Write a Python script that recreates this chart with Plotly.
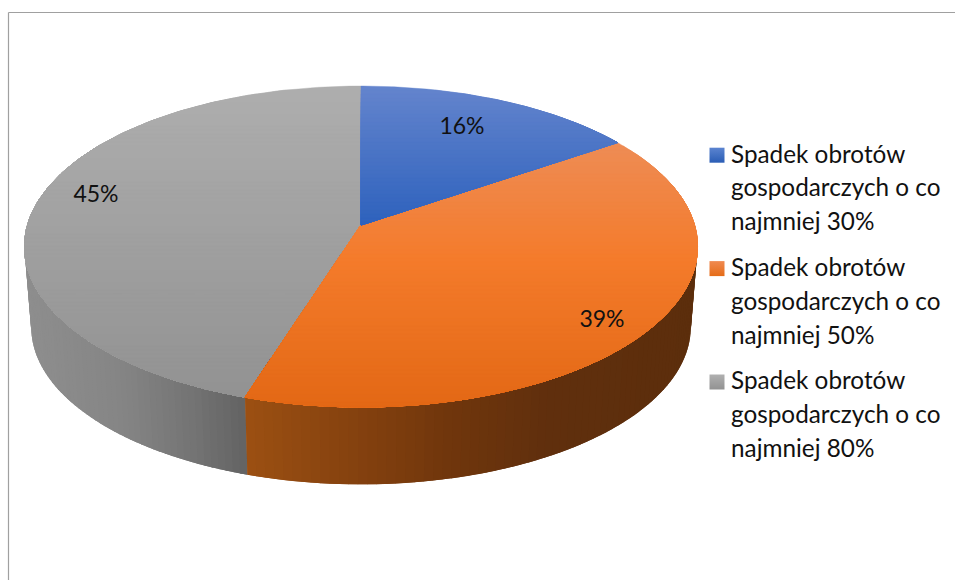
import numpy as np
import plotly.graph_objects as go

# ---- data ----
categories = [
    "Spadek obrotów<br>gospodarczych o co<br>najmniej 30%",
    "Spadek obrotów<br>gospodarczych o co<br>najmniej 50%",
    "Spadek obrotów<br>gospodarczych o co<br>najmniej 80%",
]
values = [15.5, 39.4, 45.1]

# ---- style / geometry of the tilted disc (screen-pixel scale of the axes) ----
CX, CY = 361.0, 225.0          # apex of the slices
A, B, K = 333.5, 157.6, 0.134  # radii and perspective of the disc
FLOOR_S, FLOOR_D = 0.98, 81.0  # lower rim
FONT = "Lato"
top_stops = [
    [(86, "#6484cd"), (225, "#2e62bd")],
    [(143, "#ee8c55"), (260, "#f47b2b"), (407, "#e36815")],
    [(86, "#aeaeae"), (397, "#929292")],
]
wall_stops = [
    None,
    [(245, "#9c5012"), (350, "#86420f"), (450, "#70360c"), (550, "#602f0d"), (697, "#5c2e0c")],
    [(24, "#8e8e8e"), (120, "#858585"), (190, "#747474"), (245, "#636363")],
]
legend_top = ["#5b84d0", "#f08a50", "#b0b0b0"]
legend_bottom = ["#2a5db5", "#e56c18", "#929292"]
label_pos = [(462, 128), (602, 321), (96, 196)]


def hex2rgb(h):
    return np.array([int(h[i:i + 2], 16) for i in (1, 3, 5)], float)


def ramp(stops, t):
    xs = [s[0] for s in stops]
    cols = np.array([hex2rgb(s[1]) for s in stops])
    c = [np.interp(t, xs, cols[:, i]) for i in range(3)]
    return "rgb(%d,%d,%d)" % tuple(round(v) for v in c)


def project(theta_deg, r=1.0, s=1.0, d=0.0):
    th = np.radians(theta_deg)
    u, v = r * np.sin(th), r * np.cos(th)
    w = 1 + K * v
    return CX + s * A * u / w, CY + d - s * B * v / w


def clip_below(xs, ys, y0):
    """Keep the part of a polygon at y >= y0."""
    ox, oy = [], []
    n = len(xs)
    for i in range(n):
        x1, y1, x2, y2 = xs[i], ys[i], xs[(i + 1) % n], ys[(i + 1) % n]
        if y1 >= y0:
            ox.append(x1)
            oy.append(y1)
        if (y1 >= y0) != (y2 >= y0):
            t = (y0 - y1) / (y2 - y1)
            ox.append(x1 + t * (x2 - x1))
            oy.append(y0)
    return ox, oy


def poly(xs, ys, color, lw=0.0):
    xs, ys = list(xs), list(ys)
    return go.Scatter(
        x=xs + xs[:1], y=ys + ys[:1], mode="lines", fill="toself", fillcolor=color,
        line=dict(color=color, width=lw), hoverinfo="skip", showlegend=False,
    )


fig = go.Figure()
edges = np.concatenate([[0], np.cumsum(values)]) / sum(values) * 360.0

# side wall: slices 2 and 3 face the viewer (painted as overlapping strips)
for idx, start, stop in ((2, edges[2], 305.0), (1, 70.0, edges[2])):
    grid = np.linspace(start, stop, 90)
    order = range(len(grid) - 1) if idx == 1 else range(len(grid) - 2, -1, -1)
    for i in order:
        a0, a1 = grid[i], grid[i + 1]
        # overlap towards the neighbouring strip, never past the slice boundary
        if idx == 1:
            t = np.array([a0, min(a1 + 1.5, stop)])
        else:
            t = np.array([max(a0 - 1.5, start), a1])
        tx, ty = project(t)
        bx, by = project(t[::-1], s=FLOOR_S, d=FLOOR_D)
        colx = project(0.5 * (a0 + a1))[0]
        fig.add_trace(poly(np.r_[tx, bx], np.r_[ty, by], ramp(wall_stops[idx], colx)))

# top face: each slice painted as vertical gradient
for idx in (2, 1, 0):
    arc = np.linspace(edges[idx], edges[idx + 1], 140)
    ax, ay = project(arc)
    px = np.r_[CX, ax]
    py = np.r_[CY, ay]
    for y0 in np.arange(np.floor(py.min()), py.max(), 4.0):
        ox, oy = clip_below(px.tolist(), py.tolist(), float(y0))
        if len(ox) > 2:
            fig.add_trace(poly(ox, oy, ramp(top_stops[idx], y0 + 2), lw=0.4))

# data labels
for (lx, ly), val in zip(label_pos, values):
    fig.add_trace(go.Scatter(
        x=[lx], y=[ly], mode="text", text=[f"{round(val)}%"], hoverinfo="skip", showlegend=False,
        textposition="middle center", textfont=dict(family=FONT, size=23, color="#111111"),
    ))

# legend entries
for i, name in enumerate(categories):
    fig.add_trace(go.Scatter(
        x=[None], y=[None], mode="markers", legendgroup=str(i),
        name=f'<span style="font-size:24.3px">{name}</span>',
        marker=dict(symbol="square", size=15, color=legend_top[i],
                    gradient=dict(type="vertical", color=legend_bottom[i])),
    ))

fig.update_layout(
    width=955, height=580, margin=dict(l=0, r=0, t=0, b=0),
    paper_bgcolor="white", plot_bgcolor="white", hovermode=False,
    xaxis=dict(range=[0, 955], visible=False, fixedrange=True),
    yaxis=dict(range=[580, 0], visible=False, fixedrange=True),
    showlegend=True,
    legend=dict(
        x=691 / 955, xanchor="left", y=1 - 129 / 580, yanchor="top",
        font=dict(family=FONT, size=26, color="#111111"),
        bgcolor="rgba(0,0,0,0)", itemwidth=30, tracegroupgap=9,
        itemclick=False, itemdoubleclick=False,
    ),
    shapes=[
        dict(type="line", xref="paper", yref="paper", x0=8.5 / 955, x1=1, y0=1 - 12.5 / 580, y1=1 - 12.5 / 580,
             line=dict(color="#a0a0a0", width=1.2)),
        dict(type="line", xref="paper", yref="paper", x0=8.5 / 955, x1=8.5 / 955, y0=0, y1=1 - 12.5 / 580,
             line=dict(color="#a0a0a0", width=1.2)),
    ],
)

fig.write_html(
    "out.html", config=dict(displayModeBar=False),
    post_script="document.body.style.margin='0';"
                "document.querySelectorAll('.legendsymbols').forEach(function(g){g.setAttribute('transform','translate(6,-31)');});",
)
